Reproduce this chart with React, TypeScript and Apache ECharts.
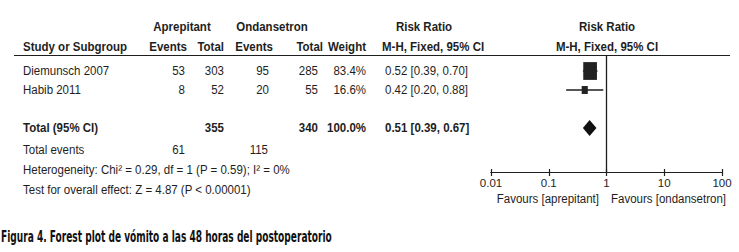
import React, { useEffect, useRef } from "react";
import * as echarts from "echarts";

// ---- data ----
const studies = ["Diemunsch 2007", "Habib 2011"];
const aprepEvents = [53, 8];
const aprepTotal = [303, 52];
const ondanEvents = [95, 20];
const ondanTotal = [285, 55];
const weights = [83.4, 16.6];
const rrEst = [0.52, 0.42];
const rrLow = [0.39, 0.2];
const rrHigh = [0.7, 0.88];
const studyRows = [0, 1];
const totalRow = 3;
const totalAprep = 355;
const totalOndan = 340;
const totalWeight = "100.0%";
const pooled = [0.51, 0.39, 0.67];
const totalEventsAprep = 61;
const totalEventsOndan = 115;
const heterogeneityText = "Heterogeneity: Chi² = 0.29, df = 1 (P = 0.59); I² = 0%";
const overallText = "Test for overall effect: Z = 4.87 (P < 0.00001)";
const axisTicks = [0.01, 0.1, 1, 10, 100];
const nullValue = 1;
const favoursLabels = ["Favours [aprepitant]", "Favours [ondansetron]"];
const captionText = "Figura 4. Forest plot de vómito a las 48 horas del postoperatorio";

const fmt2 = (v: number) => v.toFixed(2);
const ciText = (e: number, l: number, h: number) => `${fmt2(e)} [${fmt2(l)}, ${fmt2(h)}]`;

const FONT = '"Liberation Sans", Arial, sans-serif';
const INK = "#1e1e1e";
const FS = 11.5;
const SY = 1.1;

// layout
const ROW0 = 71;
const ROWH = 19;
const LINE_Y = 55.5;
const AXIS_Y = 172;
const yMin = (LINE_Y - ROW0) / ROWH;
const yMax = (AXIS_Y - ROW0) / ROWH;
const rowY = (r: number) => ROW0 + r * ROWH;

function txt(x: number, y: number, text: string, align: string, bold = false, extra: any = {}) {
  return {
    type: "text",
    x,
    y,
    scaleY: SY,
    silent: true,
    style: {
      text,
      fill: INK,
      fontFamily: FONT,
      fontSize: FS,
      fontWeight: bold ? "bold" : "normal",
      align,
      verticalAlign: "middle",
      ...extra,
    },
  };
}

function measure(text: string, font: string) {
  const c = document.createElement("canvas").getContext("2d");
  if (!c) return 1;
  c.font = font;
  return c.measureText(text).width || 1;
}

export default function App() {
  const ref = useRef<HTMLDivElement>(null);
  useEffect(() => {
    if (!ref.current) return;
    const chart = echarts.init(ref.current, undefined, { renderer: "svg" });

    const g: any[] = [];
    // headers
    g.push(txt(182, 27, "Aprepitant", "center", true));
    g.push(txt(272, 27, "Ondansetron", "center", true));
    g.push(txt(424, 27, "Risk Ratio", "center", true));
    g.push(txt(607, 27, "Risk Ratio", "center", true));
    g.push(txt(23, 46.5, "Study or Subgroup", "left", true));
    g.push(txt(187, 46.5, "Events", "right", true));
    g.push(txt(224, 46.5, "Total", "right", true));
    g.push(txt(273, 46.5, "Events", "right", true));
    g.push(txt(323, 46.5, "Total", "right", true));
    g.push(txt(366, 46.5, "Weight", "right", true));
    g.push(txt(382, 46.5, "M-H, Fixed, 95% CI", "left", true));
    g.push(txt(607, 46.5, "M-H, Fixed, 95% CI", "center", true));
    g.push({
      type: "line",
      silent: true,
      shape: { x1: 14, y1: LINE_Y, x2: 730, y2: LINE_Y },
      style: { stroke: INK, lineWidth: 1 },
    });
    // study rows
    studies.forEach((s, i) => {
      const y = rowY(studyRows[i]);
      g.push(txt(23, y, s, "left"));
      g.push(txt(185, y, String(aprepEvents[i]), "right"));
      g.push(txt(224, y, String(aprepTotal[i]), "right"));
      g.push(txt(269, y, String(ondanEvents[i]), "right"));
      g.push(txt(318, y, String(ondanTotal[i]), "right"));
      g.push(txt(366, y, weights[i].toFixed(1) + "%", "right"));
      g.push(txt(385, y, ciText(rrEst[i], rrLow[i], rrHigh[i]), "left"));
    });
    // total row
    const ty = rowY(totalRow);
    g.push(txt(23, ty, "Total (95% CI)", "left", true));
    g.push(txt(224, ty, String(totalAprep), "right", true));
    g.push(txt(318, ty, String(totalOndan), "right", true));
    g.push(txt(366, ty, totalWeight, "right", true));
    g.push(txt(385, ty, ciText(pooled[0], pooled[1], pooled[2]), "left", true));
    g.push(txt(23, 150, "Total events", "left"));
    g.push(txt(185, 150, String(totalEventsAprep), "right"));
    g.push(txt(268, 150, String(totalEventsOndan), "right"));
    g.push(txt(23, 170, heterogeneityText, "left"));
    g.push(txt(23, 190, overallText, "left"));
    // favours
    g.push(txt(599, 198.5, favoursLabels[0], "right"));
    g.push(txt(611, 198.5, favoursLabels[1], "left"));
    // caption
    const capFamily = '"DejaVu Sans Condensed", "DejaVu Sans", sans-serif';
    const capSize = 13.5;
    const capW = measure(captionText, `bold ${capSize}px ${capFamily}`);
    const capScale = 331 / capW;
    g.push({
      type: "text",
      x: 1,
      y: 236.5,
      scaleX: capScale,
      scaleY: 1.12,
      silent: true,
      style: {
        text: captionText,
        fill: "#111",
        fontFamily: capFamily,
        fontSize: capSize,
        fontWeight: "bold",
        align: "left",
        verticalAlign: "middle",
      },
    });

    const studyData = studies.map((_, i) => [rrEst[i], rrLow[i], rrHigh[i], studyRows[i], weights[i]]);

    const logAxisBase = {
      type: "log",
      logBase: 10,
      min: axisTicks[0],
      max: axisTicks[axisTicks.length - 1],
      position: "bottom",
      splitLine: { show: false },
    };

    chart.setOption({
      animation: false,
      backgroundColor: "#ffffff",
      grid: { left: 491, right: 739 - 722, top: LINE_Y, bottom: 252 - AXIS_Y, containLabel: false },
      xAxis: [
        {
          ...logAxisBase,
          axisLine: { show: true, onZero: false, lineStyle: { color: INK, width: 1.2 } },
          axisTick: { show: true, length: 4, lineStyle: { color: INK, width: 1.2 } },
          axisLabel: {
            show: true,
            margin: 5,
            color: INK,
            fontFamily: FONT,
            fontSize: FS,
            formatter: (v: number) => {
              const t = axisTicks.find((a) => Math.abs(Math.log10(a) - Math.log10(v)) < 1e-6);
              return t === undefined ? "" : String(t);
            },
          },
        },
        {
          ...logAxisBase,
          axisLine: { show: true, onZero: false, lineStyle: { color: INK, width: 1.2 } },
          axisTick: { show: true, inside: true, length: 3, lineStyle: { color: INK, width: 1.2 } },
          axisLabel: { show: false },
        },
      ],
      yAxis: { type: "value", inverse: true, min: yMin, max: yMax, show: false },
      series: [
        {
          type: "custom",
          xAxisIndex: 0,
          silent: true,
          data: [[nullValue, yMin, yMax]],
          renderItem: (params: any, api: any) => {
            const p1 = api.coord([api.value(0), api.value(1)]);
            const p2 = api.coord([api.value(0), api.value(2)]);
            return {
              type: "line",
              shape: { x1: p1[0], y1: p1[1], x2: p2[0], y2: p2[1] },
              style: { stroke: INK, lineWidth: 1.3 },
            };
          },
        },
        {
          type: "custom",
          xAxisIndex: 0,
          silent: true,
          data: studyData,
          renderItem: (params: any, api: any) => {
            const r = api.value(3);
            const pL = api.coord([api.value(1), r]);
            const pH = api.coord([api.value(2), r]);
            const pM = api.coord([api.value(0), r]);
            const side = 1.5 * Math.sqrt(api.value(4));
            const h = side * 1.3;
            return {
              type: "group",
              children: [
                {
                  type: "line",
                  shape: { x1: pL[0], y1: pL[1], x2: pH[0], y2: pH[1] },
                  style: { stroke: INK, lineWidth: 1.3 },
                },
                {
                  type: "rect",
                  shape: { x: pM[0] - side / 2, y: pM[1] - h / 2, width: side, height: h },
                  style: { fill: "#222" },
                },
              ],
            };
          },
        },
        {
          type: "custom",
          xAxisIndex: 0,
          silent: true,
          data: [[pooled[0], pooled[1], pooled[2], totalRow]],
          renderItem: (params: any, api: any) => {
            const r = api.value(3);
            const pL = api.coord([api.value(1), r]);
            const pH = api.coord([api.value(2), r]);
            const pM = api.coord([api.value(0), r]);
            const hh = 8;
            return {
              type: "polygon",
              shape: {
                points: [
                  [pL[0], pL[1]],
                  [pM[0], pM[1] - hh],
                  [pH[0], pH[1]],
                  [pM[0], pM[1] + hh],
                ],
              },
              style: { fill: "#111" },
            };
          },
        },
      ],
      graphic: g,
    });
    return () => chart.dispose();
  }, []);
  return (
    <div
      ref={ref}
      style={{ position: "fixed", left: 0, top: 0, width: 739, height: 252, background: "#fff" }}
    />
  );
}
